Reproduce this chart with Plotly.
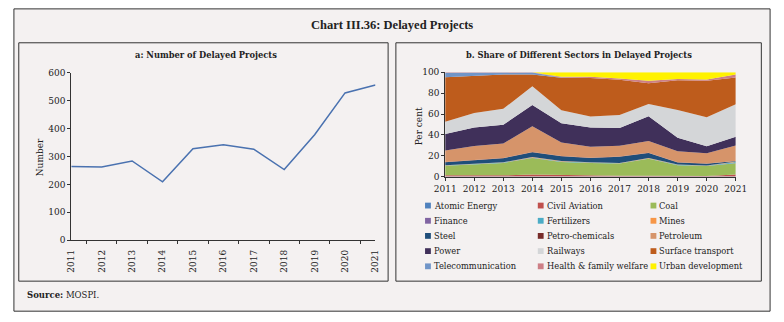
import plotly.graph_objects as go

# ---------------- data ----------------
years = [2011, 2012, 2013, 2014, 2015, 2016, 2017, 2018, 2019, 2020, 2021]
year_labels = [str(y) for y in years]

# Panel a: number of delayed projects
delayed_projects = [264, 262, 284, 209, 328, 342, 326, 253, 378, 528, 556]

# Panel b: sector shares in delayed projects (per cent), bottom to top
sectors = [
    "Atomic Energy", "Civil Aviation", "Coal",
    "Finance", "Fertilizers", "Mines",
    "Steel", "Petro-chemicals", "Petroleum",
    "Power", "Railways", "Surface transport",
    "Telecommunication", "Health & family welfare", "Urban development",
]
atomic_energy = [0.4, 0.4, 0.4, 0.4, 0.4, 0.3, 0.3, 0.3, 0.3, 0.3, 0.3]
civil_aviation = [1.0, 1.0, 1.0, 1.8, 1.4, 0.6, 0.8, 0.8, 0.5, 0.4, 1.8]
coal = [9.1, 10.3, 11.9, 15.7, 12.4, 12.4, 11.6, 16.2, 10.3, 9.5, 10.9]
finance = [0.0, 0.0, 0.0, 0.3, 0.0, 0.0, 0.0, 0.0, 0.0, 0.0, 0.2]
fertilizers = [0.3, 0.3, 0.3, 0.3, 0.3, 0.3, 0.3, 0.3, 0.3, 0.4, 1.0]
mines = [0.3, 0.3, 0.3, 0.4, 0.5, 0.3, 0.3, 0.3, 0.3, 0.3, 0.3]
steel = [2.8, 3.2, 3.8, 4.6, 4.6, 4.1, 5.9, 4.9, 1.9, 1.5, 0.5]
petro_chemicals = [0.2, 0.2, 0.2, 0.2, 0.2, 0.2, 0.2, 0.2, 0.2, 0.2, 0.2]
petroleum = [11.1, 13.8, 13.9, 24.6, 12.9, 10.5, 10.2, 11.2, 10.6, 10.0, 14.6]
power = [15.8, 17.7, 17.9, 20.4, 18.5, 18.5, 17.0, 23.6, 12.9, 6.7, 8.4]
railways = [11.7, 13.8, 15.3, 17.8, 12.3, 10.3, 12.4, 11.7, 26.5, 27.7, 31.1]
surface_transport = [42.5, 35.3, 32.8, 11.3, 31.1, 37.0, 33.8, 19.9, 28.5, 34.8, 25.5]
telecommunication = [4.2, 3.3, 1.8, 1.8, 0.3, 0.0, 0.0, 0.0, 0.0, 0.0, 0.0]
health_family_welfare = [0.6, 0.4, 0.4, 0.4, 0.6, 1.0, 1.2, 2.5, 1.2, 1.2, 3.0]
urban_development = [0.0, 0.0, 0.0, 0.0, 4.5, 4.5, 6.0, 8.1, 6.5, 7.0, 2.2]

sector_values = [
    atomic_energy, civil_aviation, coal,
    finance, fertilizers, mines,
    steel, petro_chemicals, petroleum,
    power, railways, surface_transport,
    telecommunication, health_family_welfare, urban_development,
]
sector_colors = [
    "#4f81bd", "#c0504d", "#9bbb59",
    "#8064a2", "#4bacc6", "#f79646",
    "#1f4e7a", "#772c2a", "#d6946a",
    "#40305a", "#d4d6d8", "#be5c1c",
    "#7095c8", "#cd7f86", "#fff200",
]

# ---------------- layout helpers ----------------
W, H = 784, 322
BG = "#f4f1f1"
SERIF = "DejaVu Serif"
TEXT = "#222222"


def px(x):
    return x / W


def py(y):
    return 1 - y / H


fig = go.Figure()

# Panel a: line chart
fig.add_trace(go.Scatter(
    x=year_labels, y=delayed_projects, mode="lines",
    line=dict(color="#4a72b0", width=1.5),
    xaxis="x", yaxis="y", showlegend=False, hoverinfo="x+y",
))

# Panel b: 100 per cent stacked area
for name, vals, col in zip(sectors, sector_values, sector_colors):
    fig.add_trace(go.Scatter(
        x=years, y=vals, name=name, mode="lines",
        stackgroup="share", line=dict(width=0, color=col),
        fillcolor=col, xaxis="x2", yaxis="y2", showlegend=False,
    ))

axis_common = dict(
    showline=True, linecolor="#333333", linewidth=1,
    ticks="outside", ticklen=3, tickwidth=1, tickcolor="#333333",
    showgrid=False, zeroline=False,
    tickfont=dict(family=SERIF, size=9, color=TEXT),
)

shapes = []
# outer frame
shapes.append(dict(type="rect", xref="paper", yref="paper",
                   x0=px(3), x1=px(781), y0=py(316), y1=py(4),
                   line=dict(color="#333333", width=1), fillcolor=BG, layer="below"))
# panel frames
shapes.append(dict(type="rect", xref="paper", yref="paper",
                   x0=px(8), x1=px(388), y0=py(285), y1=py(39),
                   line=dict(color="#333333", width=1), fillcolor=BG, layer="below"))
shapes.append(dict(type="rect", xref="paper", yref="paper",
                   x0=px(396), x1=px(772), y0=py(285), y1=py(39),
                   line=dict(color="#333333", width=1), fillcolor=BG, layer="below"))

annotations = [
    dict(text="<b>Chart III.36: Delayed Projects</b>", x=0.5, y=py(21),
         font=dict(family="Liberation Serif", size=12.5, color=TEXT)),
    dict(text="<b>a: Number of Delayed Projects</b>", x=px(201), y=py(52),
         font=dict(family=SERIF, size=8.3, color=TEXT)),
    dict(text="<b>b. Share of Different Sectors in Delayed Projects</b>", x=px(584), y=py(52),
         font=dict(family=SERIF, size=8.3, color=TEXT)),
    dict(text="Number", x=px(30), y=py(157), textangle=-90,
         font=dict(family=SERIF, size=9, color=TEXT)),
    dict(text="Per cent", x=px(420), y=py(125), textangle=-90,
         font=dict(family=SERIF, size=9, color=TEXT)),
    dict(text="<b>Source:</b> MOSPI.", x=px(14), y=py(299), xanchor="left",
         font=dict(family=SERIF, size=8.5, color=TEXT)),
]
for a in annotations:
    a.update(xref="paper", yref="paper", showarrow=False)
    a.setdefault("xanchor", "center")
    a.setdefault("yanchor", "middle")

# legend for panel b: three columns, five rows
col_x = [426, 542, 658]
row_y = [207, 222.7, 238.3, 254, 269.7]
for i, (name, col) in enumerate(zip(sectors, sector_colors)):
    r, c = divmod(i, 3)
    x0, yc = col_x[c], row_y[r]
    shapes.append(dict(type="rect", xref="paper", yref="paper",
                       x0=px(x0), x1=px(x0 + 6), y0=py(yc + 3), y1=py(yc - 3),
                       line=dict(width=0), fillcolor=col))
    annotations.append(dict(text=name, x=px(x0 + 7), y=py(yc), xref="paper", yref="paper",
                            xanchor="left", yanchor="middle", showarrow=False,
                            font=dict(family=SERIF, size=8.3, color=TEXT)))

fig.update_layout(
    width=W, height=H,
    margin=dict(l=0, r=0, t=0, b=0),
    paper_bgcolor="white", plot_bgcolor=BG,
    showlegend=False,
    xaxis=dict(axis_common, type="category", domain=[px(62), px(375)],
               tickson="boundaries", tickangle=-90, ticklabelstandoff=5, anchor="y"),
    yaxis=dict(axis_common, domain=[py(242.7), py(70)], range=[0, 600],
               dtick=100, anchor="x"),
    xaxis2=dict(axis_common, domain=[px(446.7), px(745.7)], range=[2011, 2021],
                dtick=1, anchor="y2"),
    yaxis2=dict(axis_common, domain=[py(177.3), py(69.3)], range=[0, 100],
                dtick=20, anchor="x2"),
    shapes=shapes,
    annotations=annotations,
)

fig.write_html("out.html")
